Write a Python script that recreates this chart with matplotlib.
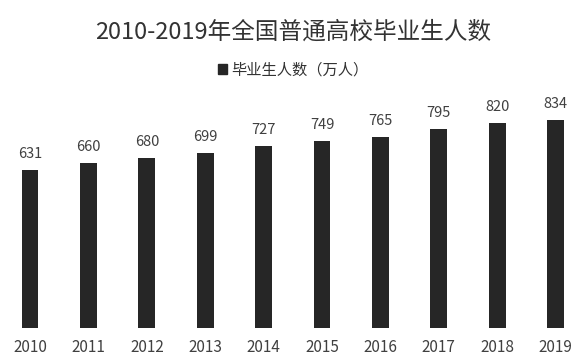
import matplotlib
matplotlib.use("Agg")
import matplotlib.pyplot as plt
from matplotlib.patches import Patch

plt.rcParams['font.family'] = ['Noto Sans CJK SC', 'DejaVu Sans']

years = ["2010", "2011", "2012", "2013", "2014", "2015", "2016", "2017", "2018", "2019"]
graduates = [631, 660, 680, 699, 727, 749, 765, 795, 820, 834]
series_name = "毕业生人数（万人）"
title = "2010-2019年全国普通高校毕业生人数"

fig = plt.figure(figsize=(5.87, 3.64), dpi=100)
ax = fig.add_axes([0.0014, 36/364, 584/587, 233/364])
x = list(range(len(years)))
bars = ax.bar(x, graduates, width=0.29, color="#262626")
ax.set_xlim(-0.5, 9.5)
ax.set_ylim(0, 932)
for xi, v in zip(x, graduates):
    ax.text(xi, v + 36, str(v), ha="center", va="bottom", fontsize=10.5, color="#404040")
for xi, yr in zip(x, years):
    ax.text(xi, -76, yr, ha="center", va="center", fontsize=11, color="#404040")
ax.axis("off")

fig.text(0.5, 1 - 32/364, title, ha="center", va="center", fontsize=17, color="#333333")
fig.legend(handles=[Patch(color="#262626", label=series_name)], loc="center",
           bbox_to_anchor=(0.5, 1 - 70/364), frameon=False, fontsize=11,
           handlelength=0.55, handleheight=0.55, handletextpad=0.3, labelcolor="#333333")

fig.savefig("out.png", dpi=100, facecolor="white")
